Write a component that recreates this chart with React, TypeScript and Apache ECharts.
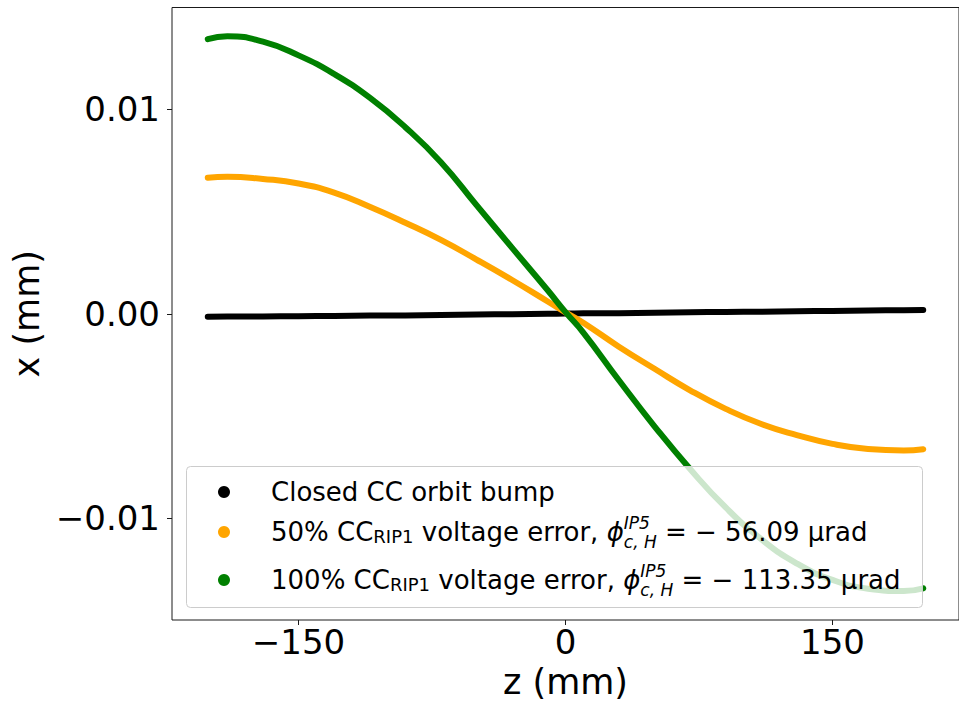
import React, { useEffect, useRef } from 'react';
import * as echarts from 'echarts';

const zValues = [-201, -190, -170, -150, -130, -110, -90, -70, -50, -30, -10, 0, 10, 30, 50, 70, 90, 110, 130, 150, 170, 190, 201];
// x (mm) for each series
const closedBump = [-0.00015, -0.00014, -0.00013, -0.00012, -0.00011, -0.00009, -0.00008, -0.00006, -0.00004, -0.00002, 0.0, 0.00001, 0.00002, 0.00003, 0.00005, 0.00007, 0.00009, 0.0001, 0.00012, 0.00014, 0.00016, 0.00017, 0.00018];
const error50 = [0.00665, 0.0067, 0.00659, 0.00637, 0.00592, 0.00523, 0.00445, 0.00361, 0.00265, 0.00165, 0.0006, 0.00007, -0.00044, -0.00161, -0.00269, -0.00374, -0.00465, -0.00539, -0.00593, -0.00636, -0.00661, -0.00668, -0.00662];
const error100 = [0.01342, 0.01356, 0.0133, 0.01263, 0.01172, 0.01056, 0.00912, 0.00741, 0.00531, 0.00322, 0.00115, 0.00008, -0.00092, -0.00325, -0.0055, -0.00759, -0.00947, -0.01102, -0.01221, -0.01301, -0.01344, -0.01355, -0.01342];

const xTicks = [-150, 0, 150];
const yTicks = [-0.01, 0, 0.01];

const seriesNames = [
  'Closed CC orbit bump',
  '50% CC_RIP1 voltage error, phi^IP5_c,H = -56.09 µrad',
  '100% CC_RIP1 voltage error, phi^IP5_c,H = -113.35 µrad',
];
const legendLabels = [
  '{b|Closed CC orbit bump}',
  '{b|50% CC}{rs|RIP1}{b| voltage error, }{phi|ϕ}{sup|IP5}{sub|c, H}{b| = − 56.09 µrad}',
  '{b|100% CC}{rs|RIP1}{b| voltage error, }{phi|ϕ}{sup|IP5}{sub|c, H}{b| = − 113.35 µrad}',
];
const seriesColors = ['#000000', '#ffa500', '#008000'];
const seriesValues = [closedBump, error50, error100];

const FONT = 'DejaVu Sans';

export default function App() {
  const ref = useRef<HTMLDivElement>(null);
  useEffect(() => {
    if (!ref.current) return;
    const chart = echarts.init(ref.current, null, { renderer: 'svg' });
    const fmtMinus = (s: string) => s.replace('-', '−');
    chart.setOption({
      animation: false,
      backgroundColor: '#ffffff',
      grid: {
        left: 172,
        top: 7.5,
        width: 792,
        height: 614.5,
        show: true,
        borderColor: '#1a1a1a',
        borderWidth: 1,
        backgroundColor: 'transparent',
      },
      xAxis: {
        type: 'value',
        min: -221.1,
        max: 221.1,
        name: 'z (mm)',
        nameLocation: 'middle',
        nameGap: 44,
        nameTextStyle: { fontFamily: FONT, fontSize: 35, color: '#000' },
        axisLine: { show: false, onZero: false },
        splitLine: { show: false },
        axisTick: { show: true, inside: false, length: 5, customValues: xTicks, lineStyle: { color: '#1a1a1a', width: 1 } },
        axisLabel: {
          customValues: xTicks,
          margin: 5,
          fontFamily: FONT,
          fontSize: 34,
          color: '#000',
          formatter: (v: number) => fmtMinus(String(v)),
        },
      },
      yAxis: {
        type: 'value',
        min: -0.01497,
        max: 0.01497,
        name: 'x (mm)',
        nameLocation: 'middle',
        nameGap: 125,
        nameTextStyle: { fontFamily: FONT, fontSize: 35, color: '#000' },
        axisLine: { show: false, onZero: false },
        splitLine: { show: false },
        axisTick: { show: true, inside: false, length: 5, customValues: yTicks, lineStyle: { color: '#1a1a1a', width: 1 } },
        axisLabel: {
          customValues: yTicks,
          margin: 12,
          fontFamily: FONT,
          fontSize: 34,
          color: '#000',
          formatter: (v: number) => fmtMinus(v.toFixed(2)),
        },
      },
      legend: {
        orient: 'vertical',
        left: 218,
        top: 476,
        padding: 0,
        itemGap: 0,
        itemWidth: 84,
        itemHeight: 12,
        icon: 'circle',
        selectedMode: false,
        data: seriesNames,
        formatter: (name: string) => legendLabels[seriesNames.indexOf(name)],
        textStyle: {
          fontFamily: FONT,
          fontSize: 26,
          lineHeight: 32,
          color: '#000',
          rich: {
            b: { fontFamily: FONT, fontSize: 26, lineHeight: 32, color: '#000' },
            rs: { fontFamily: FONT, fontSize: 18, lineHeight: 20, color: '#000', padding: [8, 0, 0, 0] },
            phi: { fontFamily: FONT, fontSize: 26, fontStyle: 'italic', lineHeight: 48, color: '#000' },
            sup: { fontFamily: FONT, fontSize: 17, fontStyle: 'italic', lineHeight: 20, color: '#000', width: 0.01, padding: [0, 0, 18, 0] },
            sub: { fontFamily: FONT, fontSize: 17, fontStyle: 'italic', lineHeight: 20, color: '#000', padding: [20, 0, 0, 0] },
          },
        },
      },
      graphic: [
        {
          type: 'rect',
          z: 3,
          silent: true,
          shape: { x: 186.5, y: 466.5, width: 736, height: 141, r: 4 },
          style: { fill: 'rgba(255,255,255,0.8)', stroke: '#cccccc', lineWidth: 1 },
        },
      ],
      series: seriesNames.map((name, i) => ({
        name,
        type: 'line',
        data: zValues.map((z, j) => [z, seriesValues[i][j]]),
        showSymbol: false,
        smooth: true,
        color: seriesColors[i],
        lineStyle: { color: seriesColors[i], width: 6, cap: 'round', join: 'round' },
        z: 2,
      })),
    });
    return () => chart.dispose();
  }, []);
  return <div ref={ref} style={{ position: 'fixed', left: 0, top: 0, width: 959, height: 704 }} />;
}
